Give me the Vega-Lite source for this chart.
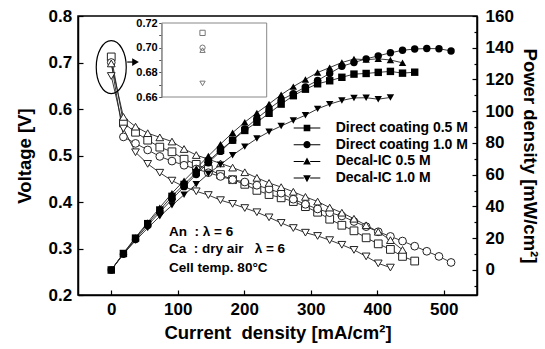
{
  "$schema": "https://vega.github.io/schema/vega-lite/v6.json",
  "autosize": "none",
  "width": 399,
  "height": 279,
  "padding": {"left": 78, "top": 16, "right": 68, "bottom": 54},
  "background": "white",
  "config": {
    "view": {"stroke": "black", "strokeWidth": 1.5},
    "font": "Liberation Sans",
    "axis": {
      "grid": false,
      "labelFont": "Liberation Sans", "labelFontWeight": "bold", "labelFontSize": 17, "labelColor": "black",
      "titleFont": "Liberation Sans", "titleFontWeight": "bold", "titleFontSize": 18.5, "titleColor": "black",
      "domainColor": "black", "domainWidth": 1.5, "tickColor": "black", "tickWidth": 1.2,
      "labelOverlap": false, "labelFlush": false, "labelBound": false
    }
  },
  "datasets": {
    "pol": [
      {"s":"Direct coating 0.5 M","I":0,"V":0.712,"P":0},
      {"s":"Direct coating 0.5 M","I":18.3,"V":0.570,"P":10.4},
      {"s":"Direct coating 0.5 M","I":36.5,"V":0.550,"P":20.1},
      {"s":"Direct coating 0.5 M","I":54.8,"V":0.533,"P":29.2},
      {"s":"Direct coating 0.5 M","I":73,"V":0.518,"P":37.8},
      {"s":"Direct coating 0.5 M","I":91.3,"V":0.508,"P":46.4},
      {"s":"Direct coating 0.5 M","I":109.5,"V":0.492,"P":53.9},
      {"s":"Direct coating 0.5 M","I":127.8,"V":0.481,"P":61.4},
      {"s":"Direct coating 0.5 M","I":146,"V":0.470,"P":68.6},
      {"s":"Direct coating 0.5 M","I":164.3,"V":0.459,"P":75.4},
      {"s":"Direct coating 0.5 M","I":182.5,"V":0.448,"P":81.8},
      {"s":"Direct coating 0.5 M","I":200.8,"V":0.438,"P":87.9},
      {"s":"Direct coating 0.5 M","I":219,"V":0.425,"P":93.1},
      {"s":"Direct coating 0.5 M","I":237.3,"V":0.416,"P":98.7},
      {"s":"Direct coating 0.5 M","I":255.5,"V":0.409,"P":104.5},
      {"s":"Direct coating 0.5 M","I":273.8,"V":0.401,"P":109.8},
      {"s":"Direct coating 0.5 M","I":292,"V":0.390,"P":113.9},
      {"s":"Direct coating 0.5 M","I":310.3,"V":0.378,"P":117.3},
      {"s":"Direct coating 0.5 M","I":328.5,"V":0.363,"P":119.2},
      {"s":"Direct coating 0.5 M","I":346.8,"V":0.350,"P":121.4},
      {"s":"Direct coating 0.5 M","I":365,"V":0.338,"P":123.4},
      {"s":"Direct coating 0.5 M","I":383.3,"V":0.323,"P":123.8},
      {"s":"Direct coating 0.5 M","I":401.5,"V":0.310,"P":124.5},
      {"s":"Direct coating 0.5 M","I":419.8,"V":0.298,"P":125.1},
      {"s":"Direct coating 0.5 M","I":438,"V":0.283,"P":124.0},
      {"s":"Direct coating 0.5 M","I":456.3,"V":0.273,"P":124.6},
      {"s":"Direct coating 1.0 M","I":0,"V":0.700,"P":0},
      {"s":"Direct coating 1.0 M","I":18.3,"V":0.540,"P":9.9},
      {"s":"Direct coating 1.0 M","I":36.5,"V":0.526,"P":19.2},
      {"s":"Direct coating 1.0 M","I":54.8,"V":0.512,"P":28.0},
      {"s":"Direct coating 1.0 M","I":73,"V":0.498,"P":36.4},
      {"s":"Direct coating 1.0 M","I":91.3,"V":0.488,"P":44.5},
      {"s":"Direct coating 1.0 M","I":109.5,"V":0.479,"P":52.5},
      {"s":"Direct coating 1.0 M","I":127.8,"V":0.471,"P":60.2},
      {"s":"Direct coating 1.0 M","I":146,"V":0.463,"P":67.6},
      {"s":"Direct coating 1.0 M","I":164.3,"V":0.455,"P":74.7},
      {"s":"Direct coating 1.0 M","I":182.5,"V":0.448,"P":81.8},
      {"s":"Direct coating 1.0 M","I":200.8,"V":0.443,"P":88.9},
      {"s":"Direct coating 1.0 M","I":219,"V":0.436,"P":95.5},
      {"s":"Direct coating 1.0 M","I":237.3,"V":0.428,"P":101.5},
      {"s":"Direct coating 1.0 M","I":255.5,"V":0.419,"P":107.1},
      {"s":"Direct coating 1.0 M","I":273.8,"V":0.406,"P":111.1},
      {"s":"Direct coating 1.0 M","I":292,"V":0.395,"P":115.3},
      {"s":"Direct coating 1.0 M","I":310.3,"V":0.385,"P":119.4},
      {"s":"Direct coating 1.0 M","I":328.5,"V":0.377,"P":123.8},
      {"s":"Direct coating 1.0 M","I":346.8,"V":0.370,"P":128.3},
      {"s":"Direct coating 1.0 M","I":365,"V":0.358,"P":130.7},
      {"s":"Direct coating 1.0 M","I":383.3,"V":0.347,"P":133.0},
      {"s":"Direct coating 1.0 M","I":401.5,"V":0.336,"P":134.9},
      {"s":"Direct coating 1.0 M","I":419.8,"V":0.326,"P":136.8},
      {"s":"Direct coating 1.0 M","I":438,"V":0.316,"P":138.4},
      {"s":"Direct coating 1.0 M","I":456.3,"V":0.305,"P":139.2},
      {"s":"Direct coating 1.0 M","I":474.5,"V":0.294,"P":139.5},
      {"s":"Direct coating 1.0 M","I":492.8,"V":0.283,"P":139.4},
      {"s":"Direct coating 1.0 M","I":511,"V":0.270,"P":138.0},
      {"s":"Decal-IC 0.5 M","I":0,"V":0.698,"P":0},
      {"s":"Decal-IC 0.5 M","I":18.3,"V":0.583,"P":10.6},
      {"s":"Decal-IC 0.5 M","I":36.5,"V":0.562,"P":20.5},
      {"s":"Decal-IC 0.5 M","I":54.8,"V":0.548,"P":30.0},
      {"s":"Decal-IC 0.5 M","I":73,"V":0.539,"P":39.3},
      {"s":"Decal-IC 0.5 M","I":91.3,"V":0.530,"P":48.4},
      {"s":"Decal-IC 0.5 M","I":109.5,"V":0.514,"P":56.3},
      {"s":"Decal-IC 0.5 M","I":127.8,"V":0.501,"P":64.0},
      {"s":"Decal-IC 0.5 M","I":146,"V":0.492,"P":71.8},
      {"s":"Decal-IC 0.5 M","I":164.3,"V":0.483,"P":79.3},
      {"s":"Decal-IC 0.5 M","I":182.5,"V":0.474,"P":86.5},
      {"s":"Decal-IC 0.5 M","I":200.8,"V":0.464,"P":93.1},
      {"s":"Decal-IC 0.5 M","I":219,"V":0.452,"P":99.0},
      {"s":"Decal-IC 0.5 M","I":237.3,"V":0.441,"P":104.6},
      {"s":"Decal-IC 0.5 M","I":255.5,"V":0.432,"P":110.4},
      {"s":"Decal-IC 0.5 M","I":273.8,"V":0.422,"P":115.5},
      {"s":"Decal-IC 0.5 M","I":292,"V":0.411,"P":120.0},
      {"s":"Decal-IC 0.5 M","I":310.3,"V":0.401,"P":124.4},
      {"s":"Decal-IC 0.5 M","I":328.5,"V":0.388,"P":127.5},
      {"s":"Decal-IC 0.5 M","I":346.8,"V":0.377,"P":130.7},
      {"s":"Decal-IC 0.5 M","I":365,"V":0.364,"P":132.9},
      {"s":"Decal-IC 0.5 M","I":383.3,"V":0.350,"P":132.5},
      {"s":"Decal-IC 0.5 M","I":401.5,"V":0.336,"P":133.0},
      {"s":"Decal-IC 0.5 M","I":419.8,"V":0.318,"P":132.3},
      {"s":"Decal-IC 0.5 M","I":438,"V":0.297,"P":130.5},
      {"s":"Decal-IC 1.0 M","I":0,"V":0.671,"P":0},
      {"s":"Decal-IC 1.0 M","I":18.3,"V":0.558,"P":10.2},
      {"s":"Decal-IC 1.0 M","I":36.5,"V":0.507,"P":18.5},
      {"s":"Decal-IC 1.0 M","I":54.8,"V":0.482,"P":26.4},
      {"s":"Decal-IC 1.0 M","I":73,"V":0.463,"P":33.8},
      {"s":"Decal-IC 1.0 M","I":91.3,"V":0.446,"P":40.7},
      {"s":"Decal-IC 1.0 M","I":109.5,"V":0.433,"P":47.4},
      {"s":"Decal-IC 1.0 M","I":127.8,"V":0.423,"P":54.0},
      {"s":"Decal-IC 1.0 M","I":146,"V":0.415,"P":60.6},
      {"s":"Decal-IC 1.0 M","I":164.3,"V":0.404,"P":66.4},
      {"s":"Decal-IC 1.0 M","I":182.5,"V":0.396,"P":72.3},
      {"s":"Decal-IC 1.0 M","I":200.8,"V":0.387,"P":77.7},
      {"s":"Decal-IC 1.0 M","I":219,"V":0.378,"P":82.8},
      {"s":"Decal-IC 1.0 M","I":237.3,"V":0.367,"P":87.1},
      {"s":"Decal-IC 1.0 M","I":255.5,"V":0.355,"P":90.7},
      {"s":"Decal-IC 1.0 M","I":273.8,"V":0.344,"P":94.2},
      {"s":"Decal-IC 1.0 M","I":292,"V":0.334,"P":97.5},
      {"s":"Decal-IC 1.0 M","I":310.3,"V":0.327,"P":101.5},
      {"s":"Decal-IC 1.0 M","I":328.5,"V":0.318,"P":104.5},
      {"s":"Decal-IC 1.0 M","I":346.8,"V":0.308,"P":106.8},
      {"s":"Decal-IC 1.0 M","I":365,"V":0.297,"P":108.4},
      {"s":"Decal-IC 1.0 M","I":383.3,"V":0.283,"P":108.5},
      {"s":"Decal-IC 1.0 M","I":401.5,"V":0.268,"P":107.6},
      {"s":"Decal-IC 1.0 M","I":419.8,"V":0.259,"P":108.7}
    ],
    "notes": [
      {"t":"An\u00a0\u00a0: λ = 6","I":87,"V":0.336},
      {"t":"Ca\u00a0\u00a0: dry air\u00a0\u00a0\u00a0λ = 6","I":87,"V":0.299},
      {"t":"Cell temp. 80°C","I":87,"V":0.259}
    ]
  },
  "layer": [
    {
      "layer": [
        {
          "data": {"name": "pol"},
          "mark": {"type": "line", "stroke": "#222", "strokeWidth": 0.9},
          "encoding": {
            "x": {"field": "I", "type": "quantitative",
              "scale": {"domain": [-50, 550], "nice": false, "zero": false},
              "axis": {"orient": "bottom", "values": [0,50,100,150,200,250,300,350,400,450,500],
                "labelExpr": "datum.value % 100 == 0 ? datum.label : ''", "labelOverlap": false,
                "tickSize": {"condition": {"test": "datum.value % 100 == 0", "value": -5}, "value": -3},
                "labelPadding": 11.5, "title": "Current\u00a0\u00a0density [mA/cm²]", "titlePadding": 6}},
            "y": {"field": "V", "type": "quantitative",
              "scale": {"domain": [0.2, 0.8], "nice": false, "zero": false},
              "axis": {"orient": "left", "values": [0.2,0.25,0.3,0.35,0.4,0.45,0.5,0.55,0.6,0.65,0.7,0.75,0.8],
                "format": ".1f", "labelOverlap": false,
                "labelExpr": "abs(datum.value*10 - round(datum.value*10)) < 0.001 ? datum.label : ''",
                "tickSize": {"condition": {"test": "abs(datum.value*10 - round(datum.value*10)) < 0.001", "value": -5}, "value": -3},
                "labelPadding": 11.3, "title": "Voltage [V]", "titlePadding": 14}},
            "detail": {"field": "s"}
          }
        },
        {
          "data": {"name": "pol"},
          "mark": {"type": "point", "filled": false, "fill": "white", "stroke": "#222", "strokeWidth": 1, "size": 60, "opacity": 1},
          "encoding": {
            "x": {"field": "I", "type": "quantitative"},
            "y": {"field": "V", "type": "quantitative"},
            "shape": {"field": "s", "type": "nominal",
              "scale": {"domain": ["Direct coating 0.5 M","Direct coating 1.0 M","Decal-IC 0.5 M","Decal-IC 1.0 M"], "range": ["square","circle","triangle-up","triangle-down"]},
              "legend": null}
          }
        },
        {
          "data": {"values": [{}]},
          "mark": {"type": "point", "shape": "M0,-1A0.566,1,0,1,1,0,1A0.566,1,0,1,1,0,-1Z", "size": 2809, "filled": false, "stroke": "black", "strokeWidth": 1.2, "opacity": 1},
          "encoding": {"x": {"datum": 0}, "y": {"datum": 0.690}}
        },
        {
          "data": {"values": [{}]},
          "mark": {"type": "rule", "stroke": "black", "strokeWidth": 1.2},
          "encoding": {"x": {"datum": 24}, "x2": {"datum": 33}, "y": {"datum": 0.701}}
        },
        {
          "data": {"values": [{}]},
          "mark": {"type": "point", "shape": "triangle-right", "size": 60, "filled": true, "color": "black", "opacity": 1},
          "encoding": {"x": {"datum": 36.5}, "y": {"datum": 0.701}}
        },
        {
          "data": {"name": "notes"},
          "mark": {"type": "text", "align": "left", "baseline": "middle", "font": "Liberation Sans", "fontWeight": "bold", "fontSize": 13.5, "color": "black"},
          "encoding": {
            "x": {"field": "I", "type": "quantitative"},
            "y": {"field": "V", "type": "quantitative"},
            "text": {"field": "t"}
          }
        }
      ]
    },
    {
      "layer": [
        {
          "data": {"name": "pol"},
          "mark": {"type": "line", "stroke": "#222", "strokeWidth": 0.9},
          "encoding": {
            "x": {"field": "I", "type": "quantitative", "scale": {"domain": [-50, 550], "nice": false, "zero": false}, "axis": null},
            "y": {"field": "P", "type": "quantitative",
              "scale": {"domain": [-15.75, 160], "nice": false, "zero": false},
              "axis": {"orient": "right", "values": [-10,0,10,20,30,40,50,60,70,80,90,100,110,120,130,140,150,160],
                "labelOverlap": false,
                "labelExpr": "datum.value % 20 == 0 ? datum.label : ''",
                "tickSize": {"condition": {"test": "datum.value % 20 == 0", "value": -5}, "value": -3},
                "labelPadding": 13,
                "title": "Power density [mW/cm²]", "titlePadding": 6}},
            "detail": {"field": "s"}
          }
        },
        {
          "data": {"name": "pol"},
          "mark": {"type": "point", "filled": true, "color": "black", "size": 55, "opacity": 1},
          "encoding": {
            "x": {"field": "I", "type": "quantitative", "axis": null},
            "y": {"field": "P", "type": "quantitative",
              "axis": {"orient": "right", "values": [-10,0,10,20,30,40,50,60,70,80,90,100,110,120,130,140,150,160],
                "labelOverlap": false,
                "labelExpr": "datum.value % 20 == 0 ? datum.label : ''",
                "tickSize": {"condition": {"test": "datum.value % 20 == 0", "value": -5}, "value": -3},
                "labelPadding": 13,
                "title": "Power density [mW/cm²]", "titlePadding": 6}},
            "shape": {"field": "s", "type": "nominal",
              "scale": {"domain": ["Direct coating 0.5 M","Direct coating 1.0 M","Decal-IC 0.5 M","Decal-IC 1.0 M"], "range": ["square","circle","triangle-up","triangle-down"]},
              "legend": null}
          }
        }
      ]
    },
    {
      "layer": [
        {
          "data": {"values": [{}]},
          "mark": {"type": "rect", "fill": "transparent", "stroke": "#888", "strokeWidth": 1},
          "encoding": {
            "x": {"datum": -10.5, "type": "quantitative", "scale": {"domain": [-10.5, 16.5], "range": [83.7, 188.7], "nice": false, "zero": false}, "axis": null},
            "x2": {"datum": 16.5},
            "y": {"datum": 0.66, "type": "quantitative", "scale": {"domain": [0.66, 0.72], "range": [81, 7], "nice": false, "zero": false},
              "axis": {"orient": "left", "offset": -83.7, "values": [0.66,0.67,0.68,0.69,0.70,0.71,0.72],
                "labelOverlap": false,
                "labelExpr": "round(datum.value*100) % 2 == 0 ? format(datum.value, '.2f') : ''",
                "tickSize": 3, "tickWidth": 1, "tickColor": "#555", "labelFontSize": 11, "labelPadding": 1.5,
                "domainColor": "#888", "domainWidth": 1, "title": null}},
            "y2": {"datum": 0.72}
          }
        },
        {
          "data": {"name": "pol"},
          "transform": [{"filter": "datum.I == 0"}],
          "mark": {"type": "point", "filled": false, "stroke": "#777", "strokeWidth": 1, "size": 28, "opacity": 1},
          "encoding": {
            "x": {"field": "I", "type": "quantitative"},
            "y": {"field": "V", "type": "quantitative"},
            "shape": {"field": "s", "type": "nominal",
              "scale": {"domain": ["Direct coating 0.5 M","Direct coating 1.0 M","Decal-IC 0.5 M","Decal-IC 1.0 M"], "range": ["square","circle","triangle-up","triangle-down"]},
              "legend": null}
          }
        }
      ]
    },
    {
      "data": {"name": "pol"},
      "transform": [{"filter": "datum.I == 0"}],
      "mark": {"type": "point", "filled": true, "color": "black", "opacity": 0},
      "encoding": {
        "shape": {"field": "s", "type": "nominal",
          "scale": {"domain": ["Direct coating 0.5 M","Direct coating 1.0 M","Decal-IC 0.5 M","Decal-IC 1.0 M"],
            "range": [
              "M-3.8,-0.14H-0.9V0.14H-3.8ZM0.9,-0.14H3.8V0.14H0.9ZM-0.95,-0.95H0.95V0.95H-0.95Z",
              "M-3.8,-0.14H-0.9V0.14H-3.8ZM0.9,-0.14H3.8V0.14H0.9ZM1.03,0A1.03,1.03,0,1,1,-1.03,0A1.03,1.03,0,1,1,1.03,0Z",
              "M-3.8,-0.14H-0.9V0.14H-3.8ZM0.9,-0.14H3.8V0.14H0.9ZM0,-1.15L1.1,0.85L-1.1,0.85Z",
              "M-3.8,-0.14H-0.9V0.14H-3.8ZM0.9,-0.14H3.8V0.14H0.9ZM0,1.15L1.1,-0.85L-1.1,-0.85Z"
            ]},
          "legend": {"orient": "none", "legendX": 222, "legendY": 105, "title": null, "padding": 0,
            "symbolSize": 49, "symbolFillColor": "black", "symbolStrokeColor": "black", "symbolStrokeWidth": 0.3, "symbolOpacity": 1,
            "labelFont": "Liberation Sans", "labelFontSize": 14, "labelFontWeight": "bold", "labelColor": "black",
            "labelOffset": 21.7, "rowPadding": 2.7}
        }
      }
    }
  ],
  "resolve": {"scale": {"x": "independent", "y": "independent", "shape": "independent"}}
}
